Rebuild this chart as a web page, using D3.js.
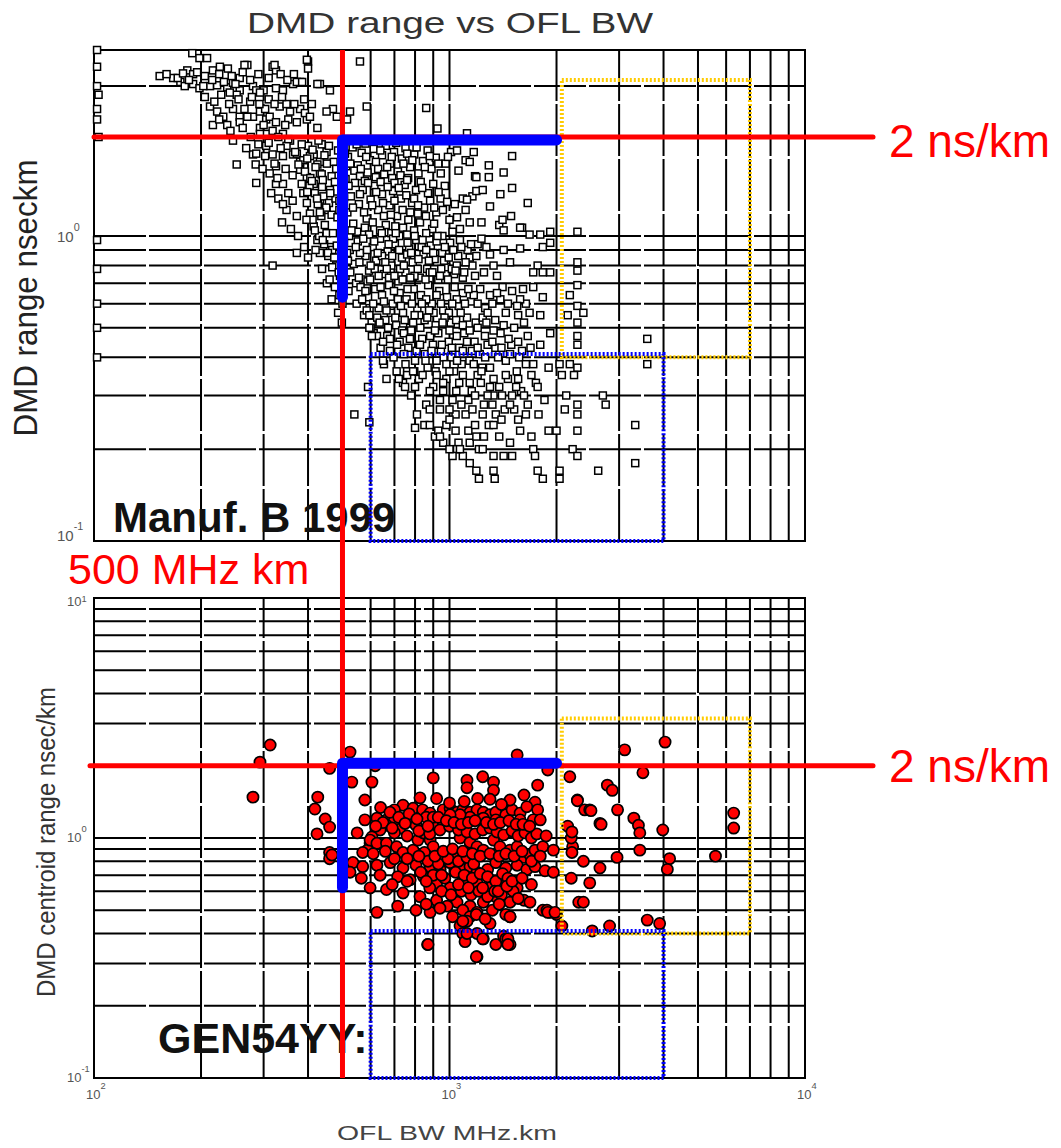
<!DOCTYPE html>
<html>
<head>
<meta charset="utf-8">
<script src="https://cdn.jsdelivr.net/npm/d3@7"></script>
<style>
body { margin: 0; background: #fff; }
svg { display: block; }
text { font-family: "Liberation Sans", Arial, sans-serif; }
</style>
</head>
<body>
<script>
// ---- data: [OFL BW MHz.km, DMD ns/km] ----
var manufEdge = [[102,4.0],[102,3.5],[102,3.0],[103,2.8],[102,2.5],[102,2.3],[103,2.0],[102,0.97],[102,0.78],[102,0.6],[102,0.5],[102,0.4]];

var manufUpper = [[153,3.25],[167,3.2],[175,3.1],[189,3.9],[198,3.75],[208,3.75],[216,3.4],[226,3.5],[238,3.45],[270,3.55],[318,3.5],[325,3.4],[400,3.65],[400,3.45],[560,3.65],
[180,3.0],[190,3.05],[198,2.95],[212,3.0],[222,3.02],[237,2.97],[246,3.08],[257,2.9],[280,3.0],[300,2.9],[325,2.95],[340,2.9],[363,3.05],[380,3.1],[432,3.05],
[212,2.55],[222,2.45],[246,2.5],[257,2.35],[280,2.35],[293,2.45],[305,2.3],[333,2.55],[356,2.45],[380,2.5],[397,2.3],
[216,2.2],[237,2.2],[246,1.95],[293,2.15],[305,2.05],[470,2.5],[515,2.3],[585,2.55],[340,2.05],[356,1.95],
[280,1.77],[305,1.88],[318,1.77],[325,1.63],[252,1.65],[348,1.88],[363,1.77],[380,1.68],[400,1.88],[415,1.77],[432,1.68],[451,1.8],
[286,1.45],[325,1.44],[340,1.44],[380,1.59],[397,1.51],[415,1.44],[432,1.55],
[348,1.2],[388,1.35],[397,1.26],[405,1.17],[432,1.29],[451,1.2],[461,1.38],
[318,0.8],[415,1.07],[425,0.97],[432,0.88],[451,1.02],[461,0.92],
[183,3.4],[190,3.3],[172,3.2],[203,3.0],[252,2.8],[241,2.85],[231,2.35],[257,2.25],[275,2.65],[286,2.9],[293,2.85],[270,2.35],[303,2.5],[312,2.35],[325,2.25],[348,2.6],[372,2.25],[392,2.42],[405,2.35],[425,2.15],[451,2.45],[482,2.35],[525,2.45],[293,2.05],[286,1.78],[303,1.75],[340,1.75],[372,1.78],[388,1.7],[405,1.75],[425,1.65],[437,1.9],[322,3.55],[372,3.1],[385,3.1],[397,3.7],[425,3.05],[461,2.9],[265,3.55],[257,3.2],[860,2.52],[925,2.14],[1120,2.06],
[160,3.3],[178,3.32],[185,3.15],[195,3.35],[205,3.25],[215,3.15],[225,3.3],[232,3.1],[244,3.25],[250,3.05],[262,3.35],[275,3.15],[290,3.3],[310,3.2],[335,3.3],[350,3.15],[365,3.3],
[205,2.75],[218,2.65],[228,2.8],[240,2.6],[255,2.7],[265,2.5],[278,2.75],[292,2.6],[310,2.7],[322,2.6],[338,2.75],[352,2.3],[366,2.6],[390,2.7],[410,2.6],
[225,2.3],[242,2.1],[262,2.15],[276,2.0],[290,1.9],[300,2.2],[318,2.1],[330,2.0],[345,2.2],[268,1.85],[285,1.65],[298,1.6],[312,1.55],[328,1.5],[315,1.35],[330,1.3],[340,1.25],[352,1.35],[362,1.28],[372,1.15],[338,1.1],[358,1.05],[375,1.0],[390,0.92],[400,0.85],[372,0.88]];

var manufBand = [[404,1.42],[418,1.35],[426,1.25],[436,1.15],[442,1.32],[458,1.26],[466,1.16],[478,1.3],[490,1.2],[412,1.12],[430,1.0],[444,0.94],[456,0.86],[468,0.9],[480,0.8],[492,0.74],[476,0.68],[490,0.64],[500,0.6],[486,0.56],[498,0.52],[420,0.9],[438,0.78],[452,0.7],[466,0.62]];

var manufCore = [
[310,1.92],[335,1.85],[352,1.97],[368,1.8],[384,1.9],[398,1.72],[412,1.83],[428,1.95],[445,1.76],[458,1.88],[472,1.68],[486,1.82],[505,1.93],[518,1.74],[534,1.86],[552,1.64],[566,1.79],[580,1.91],[597,1.7],[612,1.84],[630,1.6],[646,1.76],[662,1.88],[680,1.66],[698,1.8],[716,1.57],[735,1.72],[752,1.85],[775,1.62],[796,1.77],[818,1.55],[842,1.69],[868,1.82],[890,1.6],[915,1.73],[945,1.55],[975,1.66],[1010,1.8],[1060,1.58],[1110,1.7],[1180,1.52],[1290,1.64],[1420,1.56],
[322,1.66],[346,1.6],[362,1.53],[376,1.65],[392,1.57],[406,1.5],[420,1.62],[437,1.54],[452,1.66],[466,1.52],[480,1.6],[498,1.55],[512,1.63],[540,1.58],[560,1.52],[588,1.56],[620,1.51],[655,1.54],[690,1.5],[728,1.53],[765,1.5],
[384,1.44],[398,1.36],[410,1.47],[424,1.3],[438,1.41],[450,1.22],[462,1.35],[476,1.46],[490,1.28],[502,1.4],[516,1.18],[528,1.32],[542,1.45],[556,1.25],[570,1.38],[585,1.13],[600,1.29],[615,1.42],[630,1.2],[646,1.34],[662,1.08],[678,1.24],[694,1.37],[712,1.15],[730,1.3],[748,1.43],[766,1.12],[785,1.26],[805,1.38],[826,1.1],[848,1.22],[870,1.35],[894,1.05],[918,1.18],[944,1.3],[970,1.42],[1000,1.12],[1035,1.25],[1070,1.05],[1110,1.2],[1160,1.32],[1230,1.1],[1300,1.23],[1380,1.08],[1490,1.15],[1600,1.06],
[396,1.12],[418,1.04],[432,1.18],[446,1.08],[470,1.02],[484,1.14],[496,1.06],[522,1.0],[536,1.09],[550,1.03],[578,1.06],[594,1.01],[608,1.1],[638,1.04],[654,1.15],[686,1.02],[704,1.07],[722,1.0],[740,1.06],[760,1.01],[795,1.04],[815,1.17],[860,1.02],[905,1.09],[955,1.0],[1020,1.03],
[440,1.48],[510,1.49],[578,1.47],[640,1.46],[700,1.45],[760,1.48],[830,1.46],[900,1.44],
[440,0.97],[455,0.88],[468,0.79],[482,0.93],[496,0.84],[510,0.74],[524,0.9],[538,0.81],[552,0.96],[566,0.72],[580,0.86],[594,0.77],[608,0.92],[622,0.83],[638,0.98],[654,0.75],[670,0.89],[686,0.8],[702,0.94],[718,0.71],[735,0.85],[752,0.76],[770,0.91],[788,0.82],[806,0.97],[825,0.73],[845,0.87],[865,0.78],[886,0.93],[908,0.84],[930,0.72],[954,0.88],[978,0.79],[1004,0.95],[1030,0.75],[1058,0.86],[1090,0.73],[1124,0.9],[1160,0.8],[1200,0.94],[1250,0.76],[1300,0.87],[1360,0.74],[1420,0.9],
[460,0.72],[474,0.85],[488,0.76],[518,0.83],[546,0.7],[560,0.88],[588,0.71],[616,0.78],[646,0.86],[676,0.73],[694,0.98],[726,0.78],[760,0.87],[797,0.74],[835,0.92],[875,0.83],[920,0.96],[965,0.83],[1015,0.78],[1070,0.97],[1140,0.85],[1230,0.98],
[520,0.66],[548,0.6],[562,0.68],[575,0.55],[590,0.63],[604,0.52],[618,0.67],[632,0.58],[646,0.64],[660,0.53],[676,0.69],[692,0.6],[708,0.51],[724,0.65],[740,0.56],[757,0.62],[775,0.5],[793,0.67],[812,0.58],[831,0.64],[851,0.53],[871,0.69],[892,0.6],[914,0.51],[936,0.66],[960,0.57],[984,0.63],[1008,0.52],[1034,0.68],[1061,0.59],[1090,0.65],[1120,0.54],[1150,0.61],[1185,0.52],[1220,0.67],[1260,0.58],[1300,0.64],[1345,0.53],[1390,0.62],[1440,0.56],[1500,0.66],[1560,0.55],[1640,0.6],
[568,0.62],[596,0.58],[626,0.54],[654,0.61],[684,0.56],[716,0.62],[748,0.53],[784,0.6],[822,0.55],[860,0.62],[902,0.56],[946,0.6],[996,0.56],[1048,0.62],[1105,0.6],[1170,0.64],[1240,0.54],[1320,0.6],[1410,0.68],
[612,0.48],[640,0.43],[668,0.47],[696,0.4],[724,0.45],[752,0.38],[780,0.49],[808,0.42],[838,0.46],[868,0.37],[898,0.44],[930,0.48],[962,0.4],[995,0.45],[1030,0.36],[1065,0.43],[1100,0.48],[1138,0.39],[1176,0.45],[1216,0.41],[1258,0.47],[1300,0.37],[1346,0.43],[1392,0.48],[1440,0.39],[1492,0.44],[1546,0.36],[1600,0.42],[1660,0.47],[1720,0.38],[1800,0.44],
[654,0.38],[710,0.36],[736,0.49],[766,0.43],[796,0.36],[852,0.41],[882,0.47],[914,0.36],[946,0.42],[1012,0.4],[1048,0.47],[1082,0.38],[1156,0.42],[1236,0.37],[1280,0.44],[1370,0.4],[1466,0.46],[1570,0.4],[1690,0.43],
[740,0.33],[780,0.3],[820,0.34],[860,0.28],[900,0.32],[940,0.27],[980,0.34],[1020,0.29],[1065,0.33],[1110,0.26],[1155,0.31],[1200,0.35],[1250,0.28],[1300,0.32],[1350,0.26],[1405,0.3],[1460,0.34],[1520,0.27],[1590,0.31],[1660,0.28],[1750,0.33],[1850,0.29],
[960,0.31],[1040,0.26],[1130,0.29],[1225,0.33],[1330,0.3],[1430,0.27],[1540,0.32],
[850,0.24],[910,0.22],[980,0.24],[1060,0.21],[1130,0.23],[1210,0.2],[1290,0.24],[1380,0.22],[1480,0.21],[1580,0.23],[1700,0.22],[1040,0.23],[1250,0.22]];

var manufDense = [
[508,1.78],[526,1.66],[548,1.9],[563,1.6],[583,1.74],[604,1.95],[621,1.68],[639,1.82],[668,1.62],[688,1.74],[708,1.92],[742,1.66],[760,1.78],[786,1.7],[808,1.86],[852,1.62],[880,1.75],[930,1.66],[990,1.74],
[505,1.3],[520,1.42],[535,1.22],[560,1.34],[575,1.18],[590,1.45],[606,1.24],[622,1.36],[650,1.26],[670,1.41],[684,1.16],[700,1.28],[720,1.4],[738,1.2],[756,1.33],[776,1.18],[795,1.3],[816,1.24],[838,1.4],[858,1.15],[882,1.28],[906,1.22],[932,1.36],[958,1.2],[985,1.27],[1050,1.14],[1090,1.3],[1140,1.1],
[505,0.96],[515,0.88],[530,1.04],[545,0.92],[558,0.82],[572,0.98],[586,0.9],[600,0.8],[614,0.96],[628,0.88],[645,1.02],[660,0.82],[674,0.94],[690,0.86],[706,1.02],[722,0.9],[744,0.8],[762,0.95],[780,0.88],[798,1.0],[818,0.84],[840,0.97],[860,0.9],[880,0.76],[900,0.88],[925,1.0],[948,0.78],[970,0.92],[995,0.85],[1025,0.9],[1048,0.8],[1080,0.92],[1110,0.82],[1150,0.94],[1190,0.86],[1270,0.92],[1330,0.8],
[526,0.76],[556,0.73],[598,0.72],[632,0.74],[666,0.78],[700,0.74],[738,0.72],[776,0.73],[814,0.78],[856,0.72],[895,0.76],[940,0.74],[990,0.72],[1040,0.77],[1100,0.76],[1180,0.74],
[580,0.66],[610,0.6],[640,0.68],[665,0.57],[698,0.66],[730,0.59],[762,0.67],[798,0.55],[836,0.6],[876,0.57],[920,0.64],[968,0.54],[1018,0.6],[1075,0.56],[1130,0.67],[1200,0.6],[1280,0.56],[1360,0.65],[1460,0.6],[1580,0.62],
[600,0.5],[636,0.52],[672,0.5],[704,0.54],[744,0.48],[790,0.52],[828,0.5],[866,0.54],[910,0.49],[956,0.52],[1000,0.49],[1044,0.53],[1090,0.51],[1140,0.49],[1200,0.5],[1270,0.52],[1330,0.49],[1420,0.51],[1520,0.5],[1620,0.52],
[680,0.42],[712,0.44],[744,0.41],[774,0.46],[800,0.39],[826,0.44],[856,0.39],[890,0.42],[920,0.39],[952,0.44],[980,0.38],[1015,0.43],[1050,0.39],[1090,0.42],[1120,0.45],[1170,0.38],[1200,0.43],[1260,0.4],[1320,0.45],[1400,0.43],[1480,0.41],[1560,0.45],[1640,0.38],
[720,0.34],[760,0.36],[800,0.32],[840,0.35],[880,0.31],[920,0.35],[960,0.33],[1000,0.36],[1045,0.31],[1090,0.35],[1140,0.33],[1180,0.3],[1230,0.36],[1280,0.3],[1330,0.34],[1380,0.32],[1440,0.35],[1500,0.3],[1560,0.34],[1620,0.3],[1700,0.35],
[880,0.27],[940,0.29],[1000,0.27],[1080,0.28],[1160,0.27],[1240,0.26],[1320,0.28],[1400,0.25],[1480,0.28],[1560,0.25],[1640,0.26],[1780,0.26],[1000,0.25],[1180,0.24],[1330,0.24]];

var manufSparse = [[1050,1.82],[1170,1.8],[1140,1.68],[1500,1.75],[1190,1.51],[1290,1.51],[1390,1.34],[1500,1.4],[1660,1.26],[1190,1.37],[1240,1.38],[1120,1.29],[1410,1.12],[1420,1.04],[1580,1.06],[1680,1.01],[1800,1.01],[1920,1.03],[2290,1.03],[1580,0.91],[1830,0.92],[1920,0.95],[1480,0.82],[1770,0.8],[1720,0.76],[1830,0.76],[1920,0.76],[2290,0.82],[2290,0.77],[2290,0.69],[2180,0.64],[2290,0.59],[2380,0.56],[2150,0.55],[2290,0.52],[1610,0.67],[1720,0.68],[1830,0.63],[1550,0.59],[1680,0.56],[1800,0.55],
[2290,0.47],[2290,0.44],[3600,0.46],[3600,0.38],[1920,0.48],[2040,0.38],[2180,0.38],[2290,0.37],[2070,0.35],[2240,0.35],[1900,0.37],[1770,0.32],[2130,0.3],[2700,0.3],[2750,0.28],[2110,0.27],[2290,0.28],[2290,0.26],[2290,0.23],[3330,0.24],[3330,0.18],[2620,0.17],[2040,0.17],[2040,0.16],[1770,0.17],[1830,0.16],[1900,0.23],[2000,0.23],[1720,0.2],[1740,0.19],[2220,0.2],[2290,0.19],[1500,0.19],[1420,0.19],[1330,0.19],[1140,0.18],[1190,0.17],[1210,0.16],[1330,0.17],[1340,0.16],[1090,0.19],[1050,0.2],[1020,0.19],[960,0.21],[1000,0.2],[1070,0.2],[1140,0.21],[1190,0.22],[1240,0.2],[930,0.23],[940,0.22],[810,0.26],[880,0.24],[800,0.235],[540,0.26],[595,0.245],[590,0.32],[650,0.39],[665,0.34],[750,0.32],[760,0.35],[790,0.36],[625,0.47],[680,0.46],[585,0.57],[595,0.55],[595,0.5],[605,0.47],[650,0.45]];

var genLeft = [[313,2.44],[293,2.07],[280,1.48],[418,1.32],[426,1.48],[447,1.2],[460,1.11],[424,1.04],[460,0.87],[460,0.82],[460,1.95],[525,2.28],[531,1.71],[605,1.71],[578,1.44],[618,2.0],[467,0.85]];

var genCore = [
[900,1.78],[1120,1.74],[1120,1.62],[1240,1.8],[1330,1.71],[1330,1.58],[1550,2.22],[1770,1.66],[1890,1.92],[826,1.47],
[740,1.37],[790,1.33],[840,1.31],[882,1.27],[700,1.31],[665,1.19],[625,1.21],[578,1.19],[726,1.1],[760,1.19],
[805,1.13],[860,1.22],[900,1.15],[960,1.31],[1004,1.33],[1050,1.28],[1090,1.31],[1142,1.28],[1195,1.31],[1245,1.28],
[1300,1.25],[1350,1.28],[1440,1.25],[1500,1.31],[1580,1.27],[1480,1.44],[1620,1.51],[1740,1.41],[1770,1.31],
[1720,1.19],[1800,1.19],[1580,1.19],[1350,1.19],[1245,1.21],[1142,1.22],[1071,1.25],[960,1.17],[1004,1.25],[900,1.22],
[700,1.19],[665,1.13],[638,1.08],[605,1.01],[598,0.95],[588,0.89],[570,0.87],
[550,1.05],[598,0.98],[625,0.95],[665,0.95],[710,0.92],[740,0.87],[790,0.89],[815,0.98],[845,1.05],[882,0.98],[900,0.92],[941,0.85],
[1071,1.0],[1142,0.96],[1195,0.92],[1245,0.89],[1330,0.98],[1387,0.92],[1480,0.89],[1550,0.92],[1620,0.83],[1684,0.85],[1740,0.89],[1830,0.92],[1960,0.89],
[535,0.79],[570,0.76],[625,0.77],[681,0.79],[740,0.75],[805,0.77],[882,0.76],[941,0.74],[1004,0.79],[1071,0.76],
[1142,0.76],[1195,0.72],[1280,0.74],[1350,0.79],[1440,0.75],[1550,0.77],[1650,0.74],[1740,0.76],[1856,0.73],[1960,0.72],
[525,0.72],[565,0.68],[638,0.7],[715,0.69],[775,0.67],[845,0.69],[920,0.65],[1004,0.62],[1090,0.67],[1195,0.65],
[1300,0.62],[1420,0.65],[1550,0.62],[1620,0.55],[1684,0.54],[1830,0.5],[1917,0.49],
[598,0.62],[665,0.61],[740,0.59],[826,0.57],[920,0.55],[1050,0.54],[1142,0.52],[1245,0.54],[1350,0.57],[1480,0.54],
[625,0.49],[715,0.52],[805,0.5],[882,0.49],[985,0.52],[1090,0.5],[1142,0.47],[1195,0.49],[1440,0.48],
[1071,0.43],[1090,0.4],[1195,0.4],[1300,0.44],[1420,0.39],[1440,0.38],[1480,0.36],[1245,0.38],[1106,0.37],[868,0.36],[1195,0.32],
[850,0.87],[1050,0.85],[870,0.8],[930,0.78],[990,0.82],[1060,0.8],[1120,0.83],[1170,0.78],[830,0.72],[900,0.7],[970,0.68],[1040,0.72],[1100,0.7],[1160,0.68],[1220,0.71],[1280,0.69],[1350,0.66],[1410,0.71],[1460,0.68],
[880,0.62],[950,0.6],[1010,0.58],[1080,0.6],[1150,0.58],[1210,0.6],[1280,0.57],[1340,0.6],[1400,0.58],[1510,0.6],[1560,0.56],
[860,0.53],[940,0.51],[1020,0.47],[1120,0.45],[1190,0.48],[1260,0.46],[1320,0.5],[1380,0.53],[1480,0.47],
[640,1.34],[680,1.28],[720,1.22],[770,1.26],[650,1.16],[700,1.05],[760,1.02],[820,1.07],[880,1.04],[940,1.08],[1000,1.12],[1060,1.08],[1120,1.06],[1180,1.04],[1240,1.08],[1300,1.1],[1360,1.06],[1420,1.03],[1500,1.07],[1560,1.02],[1630,1.05],[1700,1.0],[1760,1.04],[1870,1.02],[1300,1.45],[1200,1.46],[1100,1.42],[1000,1.4],[920,1.46],[1400,1.38],[1650,1.35],
[1240,0.38],[1350,0.36],[1460,0.38],[1460,0.36],[1190,0.32],[870,0.36],[1090,0.45],[1120,0.4],[1480,0.47],[1880,0.5],[2000,0.48],
[620,1.12],[690,1.1],[750,1.15],[810,1.2],[870,1.12],[930,1.22],[980,1.18],[1030,1.16],[1080,1.14],[1130,1.16],[1180,1.18],[1270,1.16],[1330,1.14],[1390,1.16],[1470,1.18],[1540,1.14],[1610,1.14],[1680,1.12],
[610,0.86],[660,0.88],[700,0.82],[760,0.82],[820,0.84],[910,0.84],[960,0.88],[1020,0.9],[1090,0.88],[1160,0.86],[1220,0.84],[1300,0.86],[1380,0.84],[1440,0.86],[1520,0.84],[1600,0.88],[1700,0.8],[1800,0.84],
[690,0.64],[760,0.66],[860,0.66],[950,0.7],[1060,0.64],[1130,0.62],[1240,0.62],[1370,0.6],[1450,0.63],[1500,0.66],[1600,0.68],[1700,0.64]];

var genRight = [[2180,1.8],[2290,1.44],[2400,1.31],[2480,1.31],[2650,1.15],[2780,1.66],[2870,1.58],[2970,1.31],[3110,2.33],[3500,1.87],[4040,2.51],[3300,1.21],[3400,1.13],[3430,1.05],[3980,1.08],[2960,0.83],[3430,0.89],[4160,0.82],[4100,0.74],[2650,0.75],[2380,0.8],[2480,0.65],[2220,0.92],[2200,1.0],[2150,1.12],[2210,1.06],[2210,0.87],[2310,0.54],[2380,0.54],[3600,0.455],[3900,0.44],[2820,0.43],[2520,0.41],[1890,0.49],[1980,0.49],[2070,0.43],[2200,0.68],[6300,1.27],[6300,1.1],[5600,0.84],[2500,1.3],[2670,1.14],[2290,1.43]];

var manufB = manufEdge.concat(manufUpper, manufBand, manufCore, manufDense, manufSparse);
var gen54 = genLeft.concat(genCore, genRight);

// limits and boxes (MHz.km / ns/km)
var bwLimit = 500, dmdLimit = 2;
var blueBarTop = {bw: [500, 2000], dmd: [0.63, 1.96]};
var blueBarBot = {bw: [500, 2000], dmd: [0.62, 2.05]};
var yellowBW = [2070, 7000], yellowDMD = [0.4, 3.15];
var blueBW = [600, 4000], blueDMD = [0.1, 0.41];
var topExp = [0, -1], botExp = [1, 0, -1], xExp = [2, 3, 4];

var svg = d3.select("body").append("svg").attr("width", 1061).attr("height", 1148);

var x = d3.scaleLog().domain([100, 10000]).range([94, 805]);
// scanned axis is slightly uneven above 1 ns/km, hence the piecewise domain
var yTop = d3.scaleLog().domain([0.1, 1, 2, 4]).range([541, 236, 137, 50]);
var yBot = d3.scaleLog().domain([0.1, 10]).range([1078, 598]);

function panel(y, lo, hi) {
  var g = svg.append("g");
  g.selectAll("line.v").data(x.ticks()).enter().append("line")
    .attr("x1", d => x(d)).attr("x2", d => x(d))
    .attr("y1", y(lo)).attr("y2", y(hi))
    .attr("stroke", "#000").attr("stroke-width", 2).attr("stroke-dasharray", "52,3");
  g.selectAll("line.h").data(y.ticks()).enter().append("line")
    .attr("x1", x(100)).attr("x2", x(10000))
    .attr("y1", d => y(d)).attr("y2", d => y(d))
    .attr("stroke", "#000").attr("stroke-width", 2).attr("stroke-dasharray", "52,3");
  g.append("rect").attr("x", x(100)).attr("y", y(hi))
    .attr("width", x(10000) - x(100)).attr("height", y(lo) - y(hi))
    .attr("fill", "none").attr("stroke", "#000").attr("stroke-width", 2);
  return g;
}

function powLabel(px, py, exp, size, raise) {
  var t = svg.append("text").attr("x", px).attr("y", py)
    .attr("font-size", size).attr("fill", "#555").text("10");
  t.append("tspan").attr("dy", -size * (raise || 0.75)).attr("font-size", size * 0.72).text(exp);
}

var gTop = panel(yTop, 0.1, 4);
var gBot = panel(yBot, 0.1, 10);

topExp.forEach(e => powLabel(57, yTop(Math.pow(10, e)) + (e < 0 ? 0 : 6), e, 15));
botExp.forEach(e => powLabel(67, yBot(Math.pow(10, e)) + (e > 0 ? 8 : 4), e, 13, e > 0 ? 0.3 : 0.75));
xExp.forEach(e => powLabel(x(Math.pow(10, e)) - 8, 1099, e, 13));

// titles and axis labels
svg.append("text").attr("x", 247).attr("y", 33).attr("font-size", 29).attr("fill", "#333")
  .attr("textLength", 406).attr("lengthAdjust", "spacingAndGlyphs").text("DMD range vs OFL BW");
svg.append("text").attr("transform", "translate(37,298) rotate(-90)").attr("text-anchor", "middle")
  .attr("font-size", 33).attr("fill", "#222").attr("textLength", 277).attr("lengthAdjust", "spacingAndGlyphs")
  .text("DMD range nseckm");
svg.append("text").attr("transform", "translate(55,842) rotate(-90)").attr("text-anchor", "middle")
  .attr("font-size", 25).attr("fill", "#333").attr("textLength", 310).attr("lengthAdjust", "spacingAndGlyphs")
  .text("DMD centroid range nsec/km");
svg.append("text").attr("x", 337).attr("y", 1140).attr("font-size", 21).attr("fill", "#444")
  .attr("textLength", 220).attr("lengthAdjust", "spacingAndGlyphs").text("OFL BW MHz.km");

// scatter
gTop.selectAll("rect.pt").data(manufB).enter().append("rect")
  .attr("x", d => x(d[0]) - 3.5).attr("y", d => yTop(d[1]) - 3.5)
  .attr("width", 7).attr("height", 7)
  .attr("fill", "#fff").attr("stroke", "#000").attr("stroke-width", 1.5);

gBot.selectAll("circle.pt").data(gen54).enter().append("circle")
  .attr("cx", d => x(d[0])).attr("cy", d => yBot(d[1])).attr("r", 5.6)
  .attr("fill", "#ff0000").attr("stroke", "#000").attr("stroke-width", 1.7);

// panel names (under the overlay lines)
svg.append("text").attr("x", 113).attr("y", 532).attr("font-size", 42).attr("font-weight", "bold")
  .attr("fill", "#111").text("Manuf. B 1999");
svg.append("text").attr("x", 158).attr("y", 1053).attr("font-size", 43).attr("font-weight", "bold")
  .attr("fill", "#111").text("GEN54YY:");

// dotted boxes
function box(y, bw, dmd, color) {
  svg.append("rect").attr("x", x(bw[0])).attr("y", y(dmd[1]))
    .attr("width", x(bw[1]) - x(bw[0])).attr("height", y(dmd[0]) - y(dmd[1]))
    .attr("fill", "none").attr("stroke", color).attr("stroke-width", 4)
    .attr("stroke-dasharray", "2,2");
}
box(yTop, yellowBW, yellowDMD, "#ffcc00");
box(yBot, yellowBW, yellowDMD, "#ffcc00");
box(yTop, blueBW, blueDMD, "#0000ff");
box(yBot, blueBW, blueDMD, "#0000ff");

// red limit lines
svg.append("line").attr("x1", x(bwLimit)).attr("x2", x(bwLimit))
  .attr("y1", yTop(4)).attr("y2", yBot(0.1))
  .attr("stroke", "#ff0000").attr("stroke-width", 5);
svg.append("line").attr("x1", x(100)).attr("x2", 873)
  .attr("y1", yTop(dmdLimit)).attr("y2", yTop(dmdLimit))
  .attr("stroke", "#ff0000").attr("stroke-width", 5).attr("stroke-linecap", "round");
svg.append("line").attr("x1", 90).attr("x2", 873)
  .attr("y1", yBot(dmdLimit)).attr("y2", yBot(dmdLimit))
  .attr("stroke", "#ff0000").attr("stroke-width", 5).attr("stroke-linecap", "round");

// thick blue spec corners
function corner(y, b) {
  var line = d3.line().x(d => x(d[0])).y(d => y(d[1]));
  svg.append("path")
    .attr("d", line([[b.bw[0], b.dmd[0]], [b.bw[0], b.dmd[1]], [b.bw[1], b.dmd[1]]]))
    .attr("fill", "none").attr("stroke", "#0000ff").attr("stroke-width", 11)
    .attr("stroke-linecap", "round").attr("stroke-linejoin", "round");
}
corner(yTop, blueBarTop);
corner(yBot, blueBarBot);

// red annotations
svg.append("text").attr("x", 889).attr("y", 157).attr("font-size", 46).attr("fill", "#ff0000").text("2 ns/km");
svg.append("text").attr("x", 889).attr("y", 782).attr("font-size", 46).attr("fill", "#ff0000").text("2 ns/km");
svg.append("text").attr("x", 68).attr("y", 584).attr("font-size", 43).attr("fill", "#ff0000").text("500 MHz km");
</script>
</body>
</html>
